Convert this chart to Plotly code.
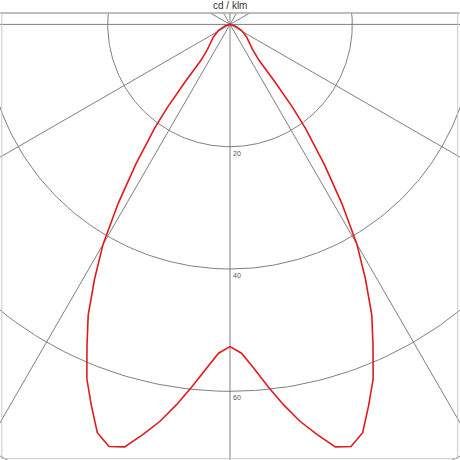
import numpy as np
import plotly.graph_objects as go

# luminous intensity distribution, cd/klm, gamma angle from nadir
gamma_deg = [0, 2, 4, 6, 8, 10, 12, 14, 16, 18, 20, 22, 24, 26, 28, 30,
             32, 34, 36, 37, 38, 39, 42, 46, 53, 63, 75, 90]
cd_c0 = [52.7, 53.8, 56.4, 59.6, 62.8, 65.9, 68.6, 71.2, 71.8, 70.2, 66.3,
         62.5, 57.5, 52.9, 47.2, 41.5, 34.5, 27.5, 21.0, 17.0, 12.0, 7.5,
         5.5, 4.5, 3.4, 2.1, 0.8, 0.0]
cd_c180 = cd_c0  # symmetric

ring_values = [20, 40, 60, 80]
ring_labels = ["20", "40", "60"]
ray_angles = [0, 30, 60, 90, 120, 150]
unit_label = "cd / klm"

grid_col = "#7f7f7f"
curve_col = "#e01b1b"

fig = go.Figure()

# rings
t = np.linspace(0, 2 * np.pi, 361)
for r in ring_values:
    fig.add_trace(go.Scatter(x=r * np.sin(t), y=-r * np.cos(t), mode="lines",
                             line=dict(color=grid_col, width=1), hoverinfo="skip"))

# rays through centre
for a in ray_angles:
    ar = np.radians(a)
    fig.add_trace(go.Scatter(x=[-120 * np.sin(ar), 120 * np.sin(ar)],
                             y=[120 * np.cos(ar), -120 * np.cos(ar)], mode="lines",
                             line=dict(color=grid_col, width=1), hoverinfo="skip"))

# curve: C180 on the left, C0 on the right
g = np.radians(gamma_deg)
left_x = -np.array(cd_c180) * np.sin(g)
left_y = -np.array(cd_c180) * np.cos(g)
right_x = np.array(cd_c0) * np.sin(g)
right_y = -np.array(cd_c0) * np.cos(g)
xs = np.concatenate([left_x[::-1], right_x[1:]])
ys = np.concatenate([left_y[::-1], right_y[1:]])
fig.add_trace(go.Scatter(x=xs, y=ys, mode="lines",
                         line=dict(color=curve_col, width=1.6)))

for r, lab in zip(ring_values, ring_labels):
    fig.add_annotation(x=0, y=-r, text=lab, showarrow=False, xanchor="left",
                       yanchor="top", xshift=1, yshift=-1,
                       font=dict(size=7, color="#555555", family="Liberation Sans"))

fig.add_annotation(x=0.5, y=1, xref="paper", yref="paper", text=unit_label,
                   showarrow=False, yanchor="bottom", yshift=0,
                   font=dict(size=10, color="#333", family="Liberation Sans"))

scale = 6.115  # px per cd/klm
fig.update_layout(
    width=460, height=460, showlegend=False,
    margin=dict(l=0, r=0, t=13, b=0),
    paper_bgcolor="white", plot_bgcolor="white",
    xaxis=dict(range=[-230 / scale, 230 / scale], visible=False, fixedrange=True),
    yaxis=dict(range=[-(447 - 11.4) / scale, 11.4 / scale], visible=False, fixedrange=True),
    shapes=[
        dict(type="rect", xref="paper", yref="paper", x0=0.004, x1=0.995, y0=0.003, y1=1,
             line=dict(color="#c8c8c8", width=1)),
        dict(type="line", xref="paper", yref="paper", x0=0, x1=1, y0=1, y1=1,
             line=dict(color="#999", width=1)),
    ],
)

fig.write_html("out.html", config={"displayModeBar": False},
               post_script="document.body.style.margin='0';")
